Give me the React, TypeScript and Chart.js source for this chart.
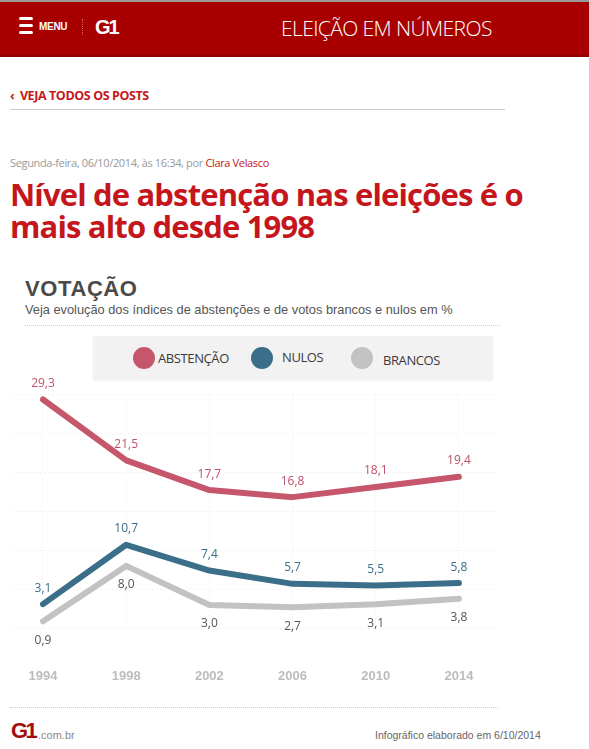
import React, { useEffect, useRef } from "react";
import { Chart, registerables } from "chart.js";

Chart.register(...registerables);

const years = [1994, 1998, 2002, 2006, 2010, 2014];
const abstencao = [29.3, 21.5, 17.7, 16.8, 18.1, 19.4];
const nulos = [3.1, 10.7, 7.4, 5.7, 5.5, 5.8];
const brancos = [0.9, 8.0, 3.0, 2.7, 3.1, 3.8];
const seriesNames = ["ABSTENÇÃO", "NULOS", "BRANCOS"];
const seriesColors = ["#c5566c", "#3b6e88", "#c2c2c2"];
const labelColors = ["#c0506a", "#3b6e88", "#555555"];

const RED = "#c4161c";
const NARROW = "'Liberation Sans Narrow', 'Arial Narrow', Arial, sans-serif";

const valueLabels = {
  id: "valueLabels",
  afterDatasetsDraw(chart: any) {
    const ctx = chart.ctx;
    chart.data.datasets.forEach((ds: any, i: number) => {
      const meta = chart.getDatasetMeta(i);
      ctx.save();
      ctx.font = "12px 'Open Sans', sans-serif";
      ctx.fillStyle = labelColors[i];
      ctx.textAlign = "center";
      ctx.textBaseline = "middle";
      meta.data.forEach((pt: any, j: number) => {
        const v = ds.data[j].y as number;
        const off = i === 2 ? 19 : -16;
        ctx.fillText(v.toFixed(1).replace(".", ","), pt.x, pt.y + off);
      });
      ctx.restore();
    });
  },
};

function LineChart() {
  const ref = useRef<HTMLCanvasElement>(null);
  useEffect(() => {
    if (!ref.current) return;
    const data = [abstencao, nulos, brancos];
    const chart = new Chart(ref.current, {
      type: "line",
      data: {
        datasets: seriesNames.map((name, i) => ({
          label: name,
          data: years.map((yr, j) => ({ x: yr, y: data[i][j] })),
          borderColor: seriesColors[i],
          backgroundColor: seriesColors[i],
          borderWidth: 6,
          pointRadius: 0,
          tension: 0,
          borderCapStyle: "round",
          borderJoinStyle: "round",
          clip: false as any,
        })),
      },
      options: {
        animation: false,
        responsive: false,
        layout: { padding: { top: 26, left: 1, right: 13, bottom: 16 } },
        plugins: { legend: { display: false }, tooltip: { enabled: false } },
        scales: {
          x: {
            type: "linear",
            min: 1992.51,
            max: 2015.83,
            afterBuildTicks: (scale: any) => {
              scale.ticks = years.map((v) => ({ value: v }));
            },
            grid: { color: "#f4f4f4", drawTicks: true, tickLength: 37, tickColor: "rgba(0,0,0,0)" },
            border: { display: false, dash: [2, 2] },
            ticks: {
              color: "#bcbcbc",
              font: { family: NARROW, weight: "bold", size: 13 },
              padding: 3,
              callback: (v: any) => String(v),
            },
          },
          y: {
            min: 0,
            max: 30,
            afterFit: (scale: any) => {
              scale.width = 11;
            },
            ticks: { stepSize: 5, display: false },
            grid: { color: "#f4f4f4", drawTicks: false },
            border: { display: false, dash: [2, 2] },
          },
        },
      },
      plugins: [valueLabels],
    });
    return () => chart.destroy();
  }, []);
  return (
    <canvas
      ref={ref}
      width={510}
      height={335}
      style={{ position: "absolute", left: 0, top: 368, width: 510, height: 335 }}
    />
  );
}

const abs = (s: React.CSSProperties): React.CSSProperties => ({ position: "absolute", whiteSpace: "nowrap", ...s });

export default function App() {
  return (
    <div style={{ position: "absolute", left: 0, top: 0, width: 589, height: 749, background: "#fff", overflow: "hidden", fontFamily: "'Open Sans', sans-serif" }}>
      {/* header */}
      <div style={abs({ left: 0, top: 0, width: 589, height: 2, background: "#9a9a9a" })} />
      <div style={abs({ left: 0, top: 2, width: 589, height: 53, background: "#a80000", borderBottom: "2px solid #900000" })} />
      <div style={abs({ left: 19, top: 17, width: 14, height: 3, borderRadius: 2, background: "#fff" })} />
      <div style={abs({ left: 19, top: 24, width: 14, height: 3, borderRadius: 2, background: "#fff" })} />
      <div style={abs({ left: 19, top: 31, width: 14, height: 3, borderRadius: 2, background: "#fff" })} />
      <div style={abs({ left: 39, top: 21, fontSize: 10, lineHeight: "12px", fontWeight: 700, color: "#fff", fontFamily: "Arial, sans-serif", letterSpacing: -0.3 })}>MENU</div>
      <div style={abs({ left: 82, top: 19, width: 0, height: 16, borderLeft: "1px dotted #d86060" })} />
      <div style={abs({ left: 95, top: 16, fontSize: 20, lineHeight: "22px", fontWeight: 900, color: "#fff", fontFamily: "Arial, sans-serif", letterSpacing: -2 })}>G1</div>
      <div style={abs({ left: 281, top: 16, fontSize: 21, lineHeight: "24px", fontWeight: 300, color: "#fff", fontFamily: "'Open Sans', sans-serif", letterSpacing: -0.6 })}>ELEIÇÃO EM NÚMEROS</div>

      {/* back link */}
      <div style={abs({ left: 10, top: 88, fontSize: 12.5, lineHeight: "16px", fontWeight: 700, color: RED, fontFamily: "'Open Sans', sans-serif", letterSpacing: -0.4 })}>‹&nbsp; VEJA TODOS OS POSTS</div>
      <div style={abs({ left: 10, top: 109, width: 495, height: 1, background: "#cccccc" })} />

      {/* date */}
      <div style={abs({ left: 10, top: 156, fontSize: 11, lineHeight: "14px", color: "#999", letterSpacing: -0.35 })}>
        Segunda-feira, 06/10/2014, às 16:34, por <span style={{ color: RED }}>Clara Velasco</span>
      </div>

      {/* title */}
      <div style={abs({ left: 10, top: 178, fontSize: 31, lineHeight: "32px", fontWeight: 700, color: RED, letterSpacing: -0.85, whiteSpace: "normal", width: 570 })}>
        Nível de abstenção nas eleições é o<br />mais alto desde 1998
      </div>

      {/* infographic header */}
      <div style={abs({ left: 25, top: 277, fontSize: 22, lineHeight: "24px", fontWeight: 900, color: "#4a4a4a", fontFamily: "Arial, sans-serif", letterSpacing: 0.6 })}>VOTAÇÃO</div>
      <div style={abs({ left: 25, top: 302, fontSize: 12.8, lineHeight: "16px", color: "#555", fontFamily: "Arial, sans-serif" })}>
        Veja evolução dos índices de abstenções e de votos brancos e nulos em %
      </div>
      <div style={abs({ left: 25, top: 325, width: 475, height: 0, borderTop: "1px dotted #cccccc" })} />

      {/* legend */}
      <div style={abs({ left: 93, top: 336, width: 400, height: 44, background: "#f2f2f2", boxShadow: "0 1px 2px rgba(0,0,0,0.06)" })} />
      {[
        { cx: 144, tx: 158, ty: 358 },
        { cx: 262, tx: 282, ty: 357 },
        { cx: 362, tx: 383, ty: 360 },
      ].map((p, i) => (
        <React.Fragment key={i}>
          <div style={abs({ left: p.cx - 11, top: 347, width: 22, height: 22, borderRadius: 11, background: seriesColors[i] })} />
          <div style={abs({ left: p.tx, top: p.ty - 8, fontSize: 13, lineHeight: "16px", color: "#3a3a3a", letterSpacing: -0.4 })}>{seriesNames[i]}</div>
        </React.Fragment>
      ))}

      <LineChart />

      {/* footer */}
      <div style={abs({ left: 10, top: 707, width: 488, height: 0, borderTop: "1px dotted #cccccc" })} />
      <div style={abs({ left: 11, top: 719, fontSize: 22, lineHeight: "24px", fontWeight: 900, color: "#a30d0d", fontFamily: "Arial, sans-serif", letterSpacing: -2.5 })}>G1</div>
      <div style={abs({ left: 38, top: 729, fontSize: 11, lineHeight: "12px", color: "#888", fontFamily: NARROW })}>.com.br</div>
      <div style={abs({ left: 375, top: 729, fontSize: 10.5, lineHeight: "12px", color: "#666", fontFamily: NARROW })}>Infográfico elaborado em 6/10/2014</div>
    </div>
  );
}
